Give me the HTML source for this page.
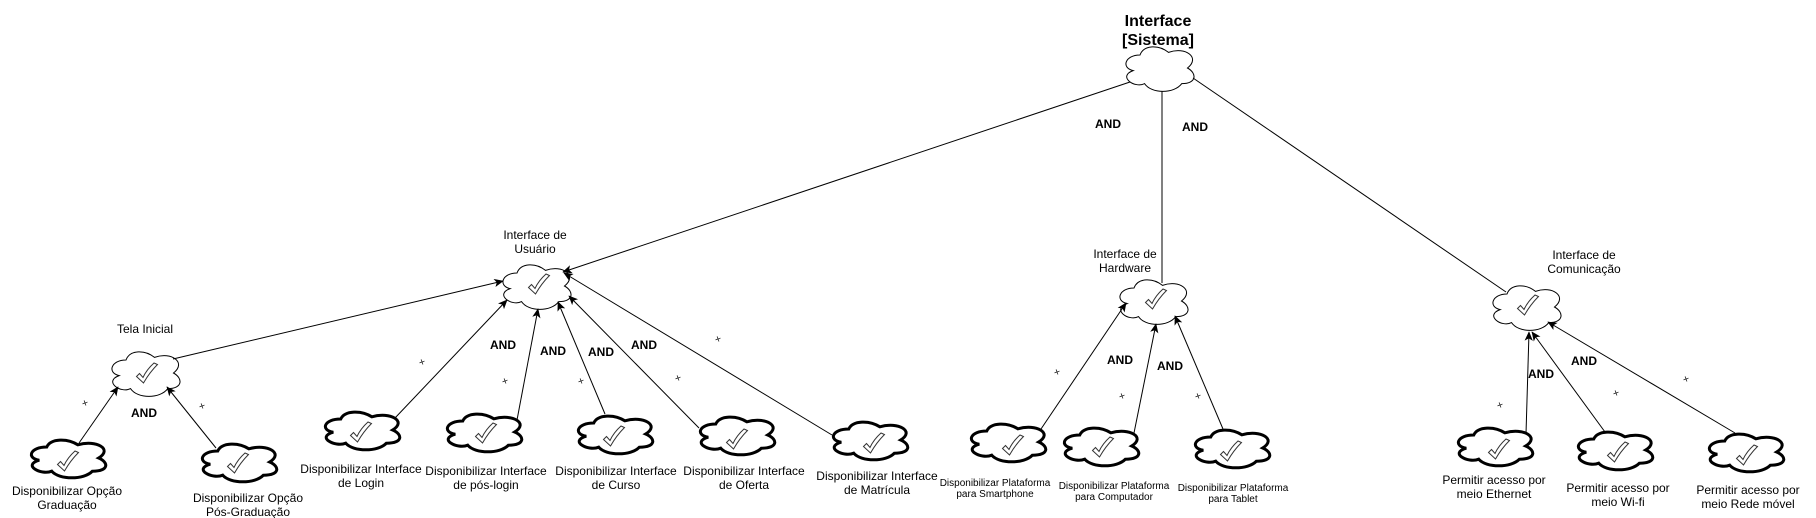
<!DOCTYPE html>
<html>
<head>
<meta charset="utf-8">
<style>
html,body{margin:0;padding:0;background:#fff;width:1816px;height:518px;overflow:hidden}
svg{display:block}
text{font-family:"Liberation Sans",Arial,sans-serif;fill:#000;text-anchor:middle}
.s{font-size:12px}
.p{font-size:10px}
.a{font-size:12px;font-weight:bold}
.t{font-size:16px;font-weight:bold}
.x{font-size:11px;fill:#222}
line{stroke:#000;stroke-width:1;marker-end:url(#h)}
line.n{marker-end:none}
</style>
</head>
<body>
<svg xmlns="http://www.w3.org/2000/svg" width="1816" height="518" viewBox="0 0 1816 518">
<defs>
<marker id="h" markerUnits="userSpaceOnUse" markerWidth="12" markerHeight="10" refX="9" refY="5" orient="auto">
<path d="M1 1.5 L9 5 L1 8.5 L3 5 Z" fill="#000" stroke="#000" stroke-width="0.6"/>
</marker>
<path id="chk" d="M30.5 27.5 L37.5 34 C41.5 27 46.5 20.5 51.5 15.5 L48 14 C43.5 18 39.5 23 37 28.5 L33.5 24.5 Z" fill="#fff" stroke="#333" stroke-width="1"/>
<path id="c1" d="M19 13 C3.8 13 0 26 12.16 28.6 C-3.8 34.32 13.68 46.8 23.56 41.6 C30.4 52 53.2 52 60.8 41.6 C76 41.6 76 31.2 66.5 26 C79.8 15.6 64.6 4.2 47.5 10.4 C38 2.6 22.8 2.6 19 13 Z" fill="#fff" stroke="#000" stroke-width="1"/>
<path id="c2" d="M20.75 11 C4.15 11 0 22 13.28 24.2 C-4.15 29.04 14.94 39.6 25.73 35.2 C33.2 44 58.1 44 66.4 35.2 C83 35.2 83 26.4 72.63 22 C87.15 13.2 70.55 3.5 51.88 8.8 C41.5 2.2 24.9 2.2 20.75 11 Z" fill="#fff" stroke="#000" stroke-width="3"/>
</defs>

<!-- clouds -->
<use href="#c1" x="1121" y="42"/>
<use href="#c1" x="107" y="347"/>
<use href="#c1" x="498" y="260"/>
<use href="#c1" x="1115" y="275"/>
<use href="#c1" x="1488" y="281"/>
<use href="#c2" x="26" y="436"/>
<use href="#c2" x="197" y="440"/>
<use href="#c2" x="320" y="408"/>
<use href="#c2" x="442" y="410"/>
<use href="#c2" x="573" y="412"/>
<use href="#c2" x="695" y="413"/>
<use href="#c2" x="828" y="418"/>
<use href="#c2" x="966" y="420"/>
<use href="#c2" x="1059" y="424"/>
<use href="#c2" x="1190" y="426"/>
<use href="#c2" x="1453" y="424"/>
<use href="#c2" x="1573" y="428"/>
<use href="#c2" x="1704" y="430"/>

<!-- check marks -->
<use href="#chk" x="106" y="349"/>
<use href="#chk" x="498" y="260"/>
<use href="#chk" x="1115" y="275"/>
<use href="#chk" x="1487" y="281"/>
<use href="#chk" x="27" y="437"/>
<use href="#chk" x="197" y="439"/>
<use href="#chk" x="320" y="408"/>
<use href="#chk" x="445" y="409"/>
<use href="#chk" x="573" y="412"/>
<use href="#chk" x="696" y="415"/>
<use href="#chk" x="833" y="419"/>
<use href="#chk" x="972" y="421"/>
<use href="#chk" x="1062" y="423"/>
<use href="#chk" x="1190" y="427"/>
<use href="#chk" x="1458" y="425"/>
<use href="#chk" x="1577" y="428"/>
<use href="#chk" x="1706" y="431"/>

<!-- connectors -->
<line x1="1130" y1="82" x2="563" y2="272"/>
<line class="n" x1="1162" y1="91" x2="1162" y2="283"/>
<line class="n" x1="1193" y1="78" x2="1506" y2="292"/>
<line x1="173" y1="359" x2="503" y2="281"/>
<line x1="79" y1="443" x2="118" y2="387"/>
<line x1="216" y1="448" x2="167" y2="387"/>
<line x1="395" y1="418" x2="507" y2="300"/>
<line x1="517" y1="420" x2="538" y2="309"/>
<line x1="605" y1="414" x2="558" y2="302"/>
<line x1="699" y1="428" x2="569" y2="296"/>
<line x1="832" y1="435" x2="564" y2="273"/>
<line x1="1041" y1="429" x2="1126" y2="303"/>
<line x1="1134" y1="433" x2="1156" y2="324"/>
<line x1="1223" y1="429" x2="1175" y2="316"/>
<line x1="1526" y1="434" x2="1529" y2="332"/>
<line x1="1605" y1="432" x2="1532" y2="332"/>
<line x1="1735" y1="433" x2="1548" y2="322"/>

<!-- titles and labels -->
<text class="t" x="1158" y="26">Interface</text>
<text class="t" x="1158" y="45">[Sistema]</text>

<text class="s" x="535" y="239">Interface de</text>
<text class="s" x="535" y="253">Usuário</text>
<text class="s" x="145" y="333">Tela Inicial</text>
<text class="s" x="67" y="495">Disponibilizar Opção</text>
<text class="s" x="67" y="509">Graduação</text>
<text class="s" x="248" y="502">Disponibilizar Opção</text>
<text class="s" x="248" y="516">Pós-Graduação</text>
<text class="s" x="361" y="473">Disponibilizar Interface</text>
<text class="s" x="361" y="487">de Login</text>
<text class="s" x="486" y="475">Disponibilizar Interface</text>
<text class="s" x="486" y="489">de pós-login</text>
<text class="s" x="616" y="475">Disponibilizar Interface</text>
<text class="s" x="616" y="489">de Curso</text>
<text class="s" x="744" y="475">Disponibilizar Interface</text>
<text class="s" x="744" y="489">de Oferta</text>
<text class="s" x="877" y="480">Disponibilizar Interface</text>
<text class="s" x="877" y="494">de Matrícula</text>
<text class="s" x="1125" y="258">Interface de</text>
<text class="s" x="1125" y="272">Hardware</text>
<text class="p" x="995" y="486">Disponibilizar Plataforma</text>
<text class="p" x="995" y="497">para Smartphone</text>
<text class="p" x="1114" y="489">Disponibilizar Plataforma</text>
<text class="p" x="1114" y="500">para Computador</text>
<text class="p" x="1233" y="491">Disponibilizar Plataforma</text>
<text class="p" x="1233" y="502">para Tablet</text>
<text class="s" x="1584" y="259">Interface de</text>
<text class="s" x="1584" y="273">Comunicação</text>
<text class="s" x="1494" y="484">Permitir acesso por</text>
<text class="s" x="1494" y="498">meio Ethernet</text>
<text class="s" x="1618" y="492">Permitir acesso por</text>
<text class="s" x="1618" y="506">meio Wi-fi</text>
<text class="s" x="1748" y="494">Permitir acesso por</text>
<text class="s" x="1748" y="508">meio Rede móvel</text>

<!-- AND -->
<text class="a" x="1108" y="128">AND</text>
<text class="a" x="1195" y="131">AND</text>
<text class="a" x="144" y="417">AND</text>
<text class="a" x="503" y="349">AND</text>
<text class="a" x="553" y="355">AND</text>
<text class="a" x="601" y="356">AND</text>
<text class="a" x="644" y="349">AND</text>
<text class="a" x="1120" y="364">AND</text>
<text class="a" x="1170" y="370">AND</text>
<text class="a" x="1541" y="378">AND</text>
<text class="a" x="1584" y="365">AND</text>

<!-- plus marks -->
<text class="x" y="3.6" transform="translate(85 403) rotate(-20)">+</text>
<text class="x" y="3.6" transform="translate(202 406) rotate(-20)">+</text>
<text class="x" y="3.6" transform="translate(422 362) rotate(-20)">+</text>
<text class="x" y="3.6" transform="translate(505 381) rotate(-20)">+</text>
<text class="x" y="3.6" transform="translate(581 381) rotate(-20)">+</text>
<text class="x" y="3.6" transform="translate(678 378) rotate(-20)">+</text>
<text class="x" y="3.6" transform="translate(718 339) rotate(-20)">+</text>
<text class="x" y="3.6" transform="translate(1057 372) rotate(-20)">+</text>
<text class="x" y="3.6" transform="translate(1122 396) rotate(-20)">+</text>
<text class="x" y="3.6" transform="translate(1198 396) rotate(-20)">+</text>
<text class="x" y="3.6" transform="translate(1500 405) rotate(-20)">+</text>
<text class="x" y="3.6" transform="translate(1616 393) rotate(-20)">+</text>
<text class="x" y="3.6" transform="translate(1686 379) rotate(-20)">+</text>
</svg>
</body>
</html>
